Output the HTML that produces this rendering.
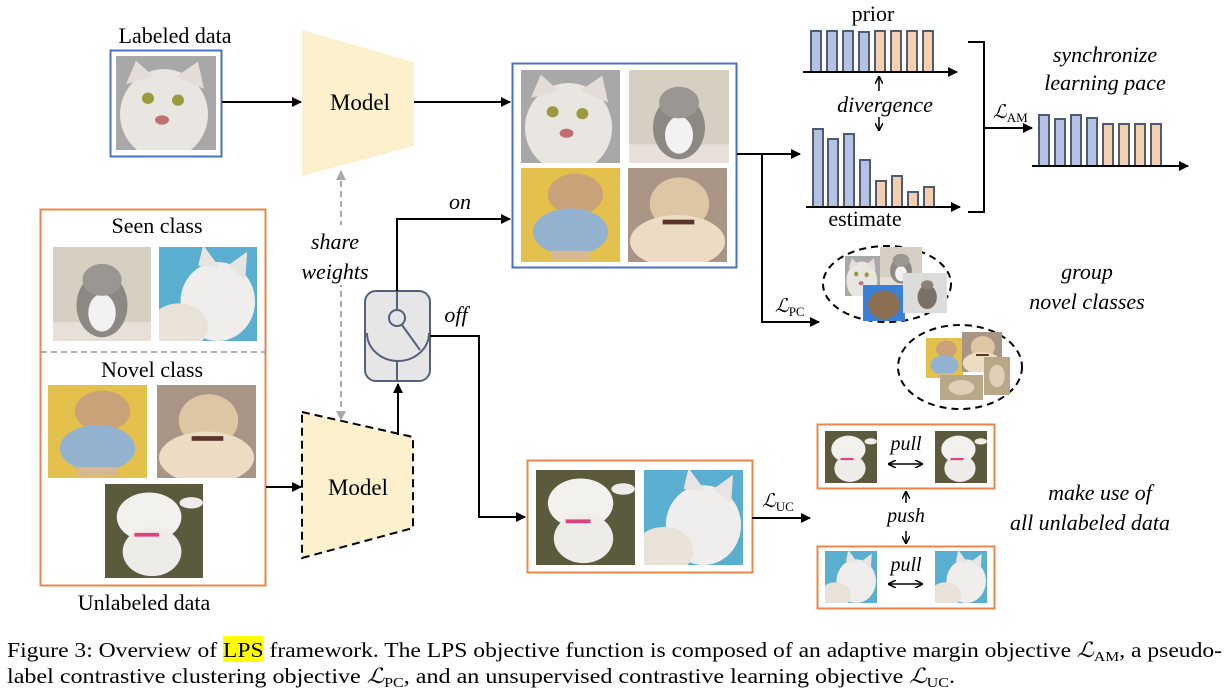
<!DOCTYPE html>
<html><head><meta charset="utf-8"><style>
html,body{margin:0;padding:0;background:#fff;}
svg{display:block;font-family:"Liberation Serif",serif;}
.it{font-style:italic;}
</style></head><body>
<svg width="1232" height="691" viewBox="0 0 1232 691" xmlns="http://www.w3.org/2000/svg">
<defs>
<marker id="ah" markerWidth="10" markerHeight="10" refX="9" refY="5" orient="auto" markerUnits="userSpaceOnUse"><path d="M0,0 L10,5 L0,10 z" fill="#000"/></marker>
<marker id="ahs" markerWidth="8" markerHeight="8" refX="7" refY="4" orient="auto-start-reverse" markerUnits="userSpaceOnUse"><path d="M0,0 L8,4 L0,8" fill="none" stroke="#000" stroke-width="1.5"/></marker>
<marker id="ahg" markerWidth="10" markerHeight="10" refX="9" refY="5" orient="auto-start-reverse" markerUnits="userSpaceOnUse"><path d="M0,0 L10,5 L0,10 z" fill="#aaa"/></marker>
<symbol id="wcat" viewBox="0 0 100 100" preserveAspectRatio="none"><rect width="100" height="100" fill="#a8a8a8"/><ellipse cx="48" cy="62" rx="44" ry="48" fill="#e9e5e0"/><path d="M10,30 L20,5 L38,22z M60,22 L82,6 L88,35z" fill="#e4dcd8"/><circle cx="32" cy="45" r="6" fill="#9a9a40"/><circle cx="62" cy="47" r="6" fill="#9a9a40"/><ellipse cx="46" cy="68" rx="7" ry="5" fill="#c07070"/></symbol>
<symbol id="kit" viewBox="0 0 100 100" preserveAspectRatio="none"><rect width="100" height="100" fill="#d6d0c2"/><rect y="80" width="100" height="20" fill="#e6e0d8"/><ellipse cx="50" cy="62" rx="26" ry="34" fill="#8c8884"/><ellipse cx="50" cy="70" rx="14" ry="20" fill="#f2f2f2"/><ellipse cx="50" cy="35" rx="20" ry="17" fill="#9a9692"/></symbol>
<symbol id="ydog" viewBox="0 0 100 100" preserveAspectRatio="none"><rect width="100" height="100" fill="#e4c04c"/><ellipse cx="55" cy="28" rx="28" ry="22" fill="#caa27a"/><ellipse cx="50" cy="68" rx="38" ry="25" fill="#93b2cf"/><rect x="30" y="88" width="40" height="10" fill="#d8b890"/></symbol>
<symbol id="gdog" viewBox="0 0 100 100" preserveAspectRatio="none"><rect width="100" height="100" fill="#a99585"/><ellipse cx="52" cy="38" rx="30" ry="28" fill="#dcc6a4"/><ellipse cx="50" cy="78" rx="48" ry="28" fill="#ecdcc4"/><rect x="35" y="55" width="32" height="5" fill="#5a3528"/></symbol>
<symbol id="wdog" viewBox="0 0 100 100" preserveAspectRatio="none"><rect width="100" height="100" fill="#5c5a3c"/><ellipse cx="45" cy="35" rx="33" ry="26" fill="#f3f1ee"/><ellipse cx="48" cy="72" rx="30" ry="26" fill="#eeece8"/><ellipse cx="88" cy="20" rx="12" ry="6" fill="#eeece8"/><rect x="30" y="52" width="25" height="4" fill="#e04080"/></symbol>
<symbol id="bcat" viewBox="0 0 100 100" preserveAspectRatio="none"><rect width="100" height="100" fill="#5aaed0"/><ellipse cx="60" cy="58" rx="38" ry="42" fill="#efeeec"/><ellipse cx="20" cy="85" rx="30" ry="25" fill="#e8e2d8"/><path d="M40,20 L45,-2 L62,22z M70,20 L90,5 L88,35z" fill="#e8e4e2"/></symbol>
<symbol id="tabby" viewBox="0 0 100 100" preserveAspectRatio="none"><rect width="100" height="100" fill="#dcdcdc"/><ellipse cx="55" cy="60" rx="22" ry="30" fill="#7a7068"/><ellipse cx="55" cy="30" rx="14" ry="12" fill="#8a8078"/></symbol>
<symbol id="bluecat" viewBox="0 0 100 100" preserveAspectRatio="none"><rect width="100" height="100" fill="#3a80d8"/><ellipse cx="50" cy="55" rx="38" ry="40" fill="#8a7050"/></symbol>
<symbol id="sand" viewBox="0 0 100 100" preserveAspectRatio="none"><rect width="100" height="100" fill="#b8a888"/><ellipse cx="50" cy="50" rx="30" ry="30" fill="#e0d0b8"/></symbol>
</defs>

<!-- Labeled data -->
<text x="175" y="43" font-size="22" text-anchor="middle">Labeled data</text>
<rect x="110.5" y="50.5" width="111" height="106" fill="#fff" stroke="#4a72c4" stroke-width="2"/>
<use href="#wcat" x="116" y="56" width="100" height="94"/>
<line x1="222" y1="102" x2="301" y2="102" stroke="#000" stroke-width="2" marker-end="url(#ah)"/>
<polygon points="302,30 414,62 414,146 302,176" fill="#fdf0cd"/>
<text x="360" y="110" font-size="23" text-anchor="middle">Model</text>
<line x1="414" y1="102" x2="510" y2="102" stroke="#000" stroke-width="2" marker-end="url(#ah)"/>

<!-- blue box -->
<rect x="512.5" y="63.5" width="224" height="204" fill="#fff" stroke="#4a72c4" stroke-width="2"/>
<use href="#wcat" x="521" y="70" width="99" height="93"/>
<use href="#kit" x="629" y="70" width="100" height="93"/>
<use href="#ydog" x="521" y="168" width="99" height="94"/>
<use href="#gdog" x="628" y="168" width="99" height="94"/>
<line x1="737" y1="154" x2="800" y2="154" stroke="#000" stroke-width="2" marker-end="url(#ah)"/>
<polyline points="762,154 762,322 819,322" fill="none" stroke="#000" stroke-width="2" marker-end="url(#ah)"/>
<text x="775" y="312" font-size="19" class="it">ℒ<tspan font-size="13" font-style="normal" dy="4">PC</tspan></text>

<!-- prior bars -->
<text x="873" y="21" font-size="22" text-anchor="middle">prior</text>
<g stroke="#4f5b73" stroke-width="2">
<rect x="811" y="31" width="10" height="41" fill="#b4c3e3"/>
<rect x="827" y="31" width="10" height="41" fill="#b4c3e3"/>
<rect x="843" y="31" width="10" height="41" fill="#b4c3e3"/>
<rect x="859" y="32" width="10" height="40" fill="#b4c3e3"/>
<rect x="875" y="31" width="10" height="41" fill="#f4d0b0"/>
<rect x="891" y="31" width="10" height="41" fill="#f4d0b0"/>
<rect x="907" y="31" width="10" height="41" fill="#f4d0b0"/>
<rect x="923" y="31" width="10" height="41" fill="#f4d0b0"/>
</g>
<line x1="803" y1="72" x2="957" y2="72" stroke="#000" stroke-width="2" marker-end="url(#ah)"/>
<line x1="879" y1="91" x2="879" y2="77" stroke="#000" stroke-width="1.5" marker-end="url(#ahs)"/>
<text x="885" y="112" font-size="22" class="it" text-anchor="middle">divergence</text>
<line x1="879" y1="117" x2="879" y2="130" stroke="#000" stroke-width="1.5" marker-end="url(#ahs)"/>
<!-- estimate -->
<g stroke="#4f5b73" stroke-width="2">
<rect x="813" y="129" width="10" height="78" fill="#b4c3e3"/>
<rect x="828" y="139" width="10" height="68" fill="#b4c3e3"/>
<rect x="844" y="134" width="10" height="73" fill="#b4c3e3"/>
<rect x="860" y="160" width="10" height="47" fill="#b4c3e3"/>
<rect x="876" y="181" width="10" height="26" fill="#f4d0b0"/>
<rect x="892" y="176" width="10" height="31" fill="#f4d0b0"/>
<rect x="908" y="192" width="10" height="15" fill="#f4d0b0"/>
<rect x="924" y="187" width="10" height="20" fill="#f4d0b0"/>
</g>
<line x1="806" y1="207" x2="960" y2="207" stroke="#000" stroke-width="2" marker-end="url(#ah)"/>
<text x="865" y="226" font-size="22" text-anchor="middle">estimate</text>
<polyline points="968,42 984,42 984,212 968,212" fill="none" stroke="#000" stroke-width="2"/>
<line x1="984" y1="128" x2="1032" y2="128" stroke="#000" stroke-width="2" marker-end="url(#ah)"/>
<text x="993" y="118" font-size="19" class="it">ℒ<tspan font-size="13" font-style="normal" dy="4">AM</tspan></text>
<text x="1105" y="62" font-size="22" class="it" text-anchor="middle">synchronize</text>
<text x="1105" y="90" font-size="22" class="it" text-anchor="middle">learning pace</text>
<g stroke="#4f5b73" stroke-width="2">
<rect x="1039" y="115" width="10" height="51" fill="#b4c3e3"/>
<rect x="1055" y="119" width="10" height="47" fill="#b4c3e3"/>
<rect x="1071" y="115" width="10" height="51" fill="#b4c3e3"/>
<rect x="1087" y="118" width="10" height="48" fill="#b4c3e3"/>
<rect x="1103" y="124" width="10" height="42" fill="#f4d0b0"/>
<rect x="1119" y="124" width="10" height="42" fill="#f4d0b0"/>
<rect x="1135" y="124" width="10" height="42" fill="#f4d0b0"/>
<rect x="1151" y="124" width="10" height="42" fill="#f4d0b0"/>
</g>
<line x1="1032" y1="166" x2="1188" y2="166" stroke="#000" stroke-width="2" marker-end="url(#ah)"/>

<!-- ellipses -->
<ellipse cx="887" cy="284" rx="64" ry="38" fill="none" stroke="#000" stroke-width="2" stroke-dasharray="7,5"/>
<use href="#wcat" x="845" y="256" width="35" height="40"/>
<use href="#kit" x="880" y="247" width="42" height="38"/>
<use href="#bluecat" x="863" y="285" width="42" height="36"/>
<use href="#tabby" x="903" y="273" width="44" height="40"/>
<ellipse cx="960" cy="367" rx="62" ry="42" fill="none" stroke="#000" stroke-width="2" stroke-dasharray="7,5"/>
<use href="#ydog" x="926" y="338" width="37" height="40"/>
<use href="#gdog" x="962" y="332" width="40" height="40"/>
<use href="#sand" x="940" y="375" width="43" height="25"/>
<use href="#sand" x="984" y="357" width="26" height="38"/>
<text x="1087" y="279" font-size="22" class="it" text-anchor="middle">group</text>
<text x="1087" y="309" font-size="22" class="it" text-anchor="middle">novel classes</text>

<!-- unlabeled box -->
<rect x="40.5" y="209.5" width="225" height="376" fill="#fff" stroke="#e8874a" stroke-width="2"/>
<text x="157" y="233" font-size="22" text-anchor="middle">Seen class</text>
<use href="#kit" x="53" y="247" width="98" height="94"/>
<use href="#bcat" x="159" y="247" width="98" height="94"/>
<line x1="41" y1="352" x2="265" y2="352" stroke="#999" stroke-width="1.5" stroke-dasharray="6,4"/>
<text x="152" y="377" font-size="22" text-anchor="middle">Novel class</text>
<use href="#ydog" x="48" y="385" width="99" height="93"/>
<use href="#gdog" x="157" y="385" width="99" height="93"/>
<use href="#wdog" x="105" y="484" width="98" height="94"/>
<text x="144" y="610" font-size="22" text-anchor="middle">Unlabeled data</text>
<line x1="266" y1="487" x2="301" y2="487" stroke="#000" stroke-width="2" marker-end="url(#ah)"/>

<!-- model 2 -->
<polygon points="302,412 413,437 413,528 302,558" fill="#fdf0cd" stroke="#000" stroke-width="2" stroke-dasharray="8,5"/>
<text x="358" y="495" font-size="23" text-anchor="middle">Model</text>
<line x1="341" y1="171" x2="341" y2="420" stroke="#aaa" stroke-width="2" stroke-dasharray="6,4" marker-start="url(#ahg)" marker-end="url(#ahg)"/>
<rect x="330" y="225" width="22" height="60" fill="#fff"/>
<text x="335" y="249" font-size="22" class="it" text-anchor="middle">share</text>
<text x="335" y="279" font-size="22" class="it" text-anchor="middle">weights</text>

<!-- switch -->
<line x1="398" y1="435" x2="398" y2="384" stroke="#000" stroke-width="2" marker-end="url(#ah)"/>
<rect x="365" y="291" width="65" height="90" rx="11" fill="#e6e6e6" stroke="#55607a" stroke-width="2"/>
<circle cx="397" cy="318" r="8" fill="none" stroke="#55607a" stroke-width="2"/>
<path d="M367,333 A31,28 0 0 0 429,333" fill="none" stroke="#55607a" stroke-width="2"/>
<line x1="402" y1="325" x2="420" y2="350" stroke="#55607a" stroke-width="2"/>
<line x1="397" y1="361" x2="397" y2="381" stroke="#55607a" stroke-width="2"/>
<line x1="397" y1="291" x2="397" y2="310" stroke="#55607a" stroke-width="2"/>
<polyline points="397,291 397,219 510,219" fill="none" stroke="#000" stroke-width="2" marker-end="url(#ah)"/>
<text x="460" y="209" font-size="22" class="it" text-anchor="middle">on</text>
<polyline points="430,336 479,336 479,517 525,517" fill="none" stroke="#000" stroke-width="2" marker-end="url(#ah)"/>
<text x="456" y="322" font-size="22" class="it" text-anchor="middle">off</text>

<!-- UC box -->
<rect x="527.5" y="460.5" width="225" height="112" fill="#fff" stroke="#e8874a" stroke-width="2"/>
<use href="#wdog" x="536" y="470" width="99" height="95"/>
<use href="#bcat" x="644" y="470" width="99" height="95"/>
<line x1="752" y1="518" x2="810" y2="518" stroke="#000" stroke-width="2" marker-end="url(#ah)"/>
<text x="762" y="507" font-size="19" class="it">ℒ<tspan font-size="13" font-style="normal" dy="4">UC</tspan></text>

<!-- pull boxes -->
<rect x="817.5" y="424.5" width="177" height="64" fill="#fff" stroke="#e8874a" stroke-width="2"/>
<use href="#wdog" x="825" y="431" width="52" height="52"/>
<use href="#wdog" x="935" y="431" width="52" height="52"/>
<text x="906" y="450" font-size="20" class="it" text-anchor="middle">pull</text>
<line x1="889" y1="464" x2="922" y2="464" stroke="#000" stroke-width="1.5" marker-start="url(#ahs)" marker-end="url(#ahs)"/>
<line x1="906" y1="492" x2="906" y2="543" stroke="#000" stroke-width="1.5" marker-start="url(#ahs)" marker-end="url(#ahs)"/>
<rect x="893" y="503" width="26" height="28" fill="#fff"/>
<text x="906" y="522" font-size="20" class="it" text-anchor="middle">push</text>
<rect x="817.5" y="546.5" width="177" height="62" fill="#fff" stroke="#e8874a" stroke-width="2"/>
<use href="#bcat" x="825" y="551" width="52" height="52"/>
<use href="#bcat" x="935" y="551" width="52" height="52"/>
<text x="906" y="571" font-size="20" class="it" text-anchor="middle">pull</text>
<line x1="889" y1="584" x2="922" y2="584" stroke="#000" stroke-width="1.5" marker-start="url(#ahs)" marker-end="url(#ahs)"/>
<text x="1100" y="500" font-size="22" class="it" text-anchor="middle">make use of</text>
<text x="1090" y="530" font-size="22" class="it" text-anchor="middle">all unlabeled data</text>

<!-- caption -->
<rect x="223" y="636" width="40" height="26" fill="#ffff00"/>
<text x="7" y="657" font-size="21" textLength="1215" lengthAdjust="spacingAndGlyphs">Figure 3: Overview of LPS framework. The LPS objective function is composed of an adaptive margin objective <tspan font-style="italic">ℒ</tspan><tspan font-size="14" dy="4">AM</tspan><tspan dy="-4">, a pseudo-</tspan></text>
<text x="7" y="683" font-size="21" textLength="948" lengthAdjust="spacingAndGlyphs">label contrastive clustering objective <tspan font-style="italic">ℒ</tspan><tspan font-size="14" dy="4">PC</tspan><tspan dy="-4">, and an unsupervised contrastive learning objective </tspan><tspan font-style="italic">ℒ</tspan><tspan font-size="14" dy="4">UC</tspan><tspan dy="-4">.</tspan></text>
</svg>
</body></html>
